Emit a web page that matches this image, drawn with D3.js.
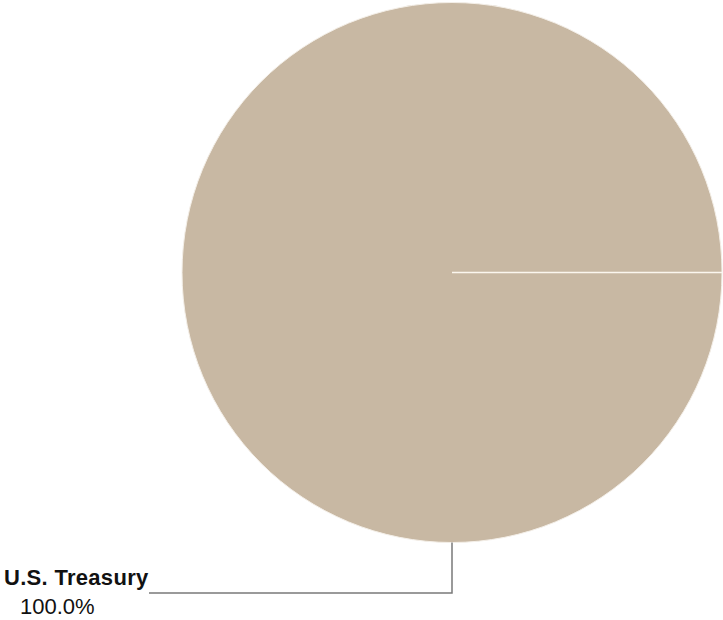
<!DOCTYPE html>
<html>
<head>
<meta charset="utf-8">
<script src="https://cdn.jsdelivr.net/npm/d3@7"></script>
<style>
  html, body { margin: 0; padding: 0; background: #fff; }
  svg { display: block; }
</style>
</head>
<body>
<svg id="chart" width="723" height="620"></svg>
<script>
const categories = ["U.S. Treasury"];
const values = [100.0];
const valueLabels = ["100.0%"];
const colors = ["#C8B8A3"];

const svg = d3.select("#chart");
const cx = 452, cy = 272.5, r = 270;
const g = svg.append("g").attr("transform", `translate(${cx},${cy})`);

const pie = d3.pie().sort(null)
  .startAngle(Math.PI / 2).endAngle(Math.PI / 2 + 2 * Math.PI);
const arcs = pie(values);
const arc = d3.arc().innerRadius(0).outerRadius(r);

g.selectAll("path.slice").data(arcs).enter().append("path")
  .attr("class", "slice")
  .attr("d", arc)
  .attr("fill", (d, i) => colors[i])
  .attr("stroke", "#f4efe8")
  .attr("stroke-width", 1);

// slice boundary radial lines
const pt = (a, rr) => [Math.sin(a) * rr, -Math.cos(a) * rr];
arcs.forEach(d => {
  const p = pt(d.startAngle, r);
  g.append("line").attr("x1", 0).attr("y1", 0).attr("x2", p[0]).attr("y2", p[1])
    .attr("stroke", "#fbf6ee").attr("stroke-width", 1.5);
});

// leader line and labels
const leaderAngle = Math.PI; // bottom
const p0 = pt(leaderAngle, r);
const elbowY = 593 - cy;
const endX = 149 - cx;
g.append("polyline")
  .attr("points", `${p0[0]},${p0[1]} ${p0[0]},${elbowY} ${endX},${elbowY}`)
  .attr("fill", "none").attr("stroke", "#7a7a7a").attr("stroke-width", 1.5);

svg.append("text").attr("x", 4).attr("y", 585)
  .attr("font-family", "Liberation Sans, Arial, sans-serif")
  .attr("font-size", 22).attr("font-weight", "bold").attr("fill", "#111")
  .attr("letter-spacing", 0.3)
  .text(categories[0]);
svg.append("text").attr("x", 20).attr("y", 614)
  .attr("font-family", "Liberation Sans, Arial, sans-serif")
  .attr("font-size", 22).attr("fill", "#111")
  .text(valueLabels[0]);
</script>
</body>
</html>
